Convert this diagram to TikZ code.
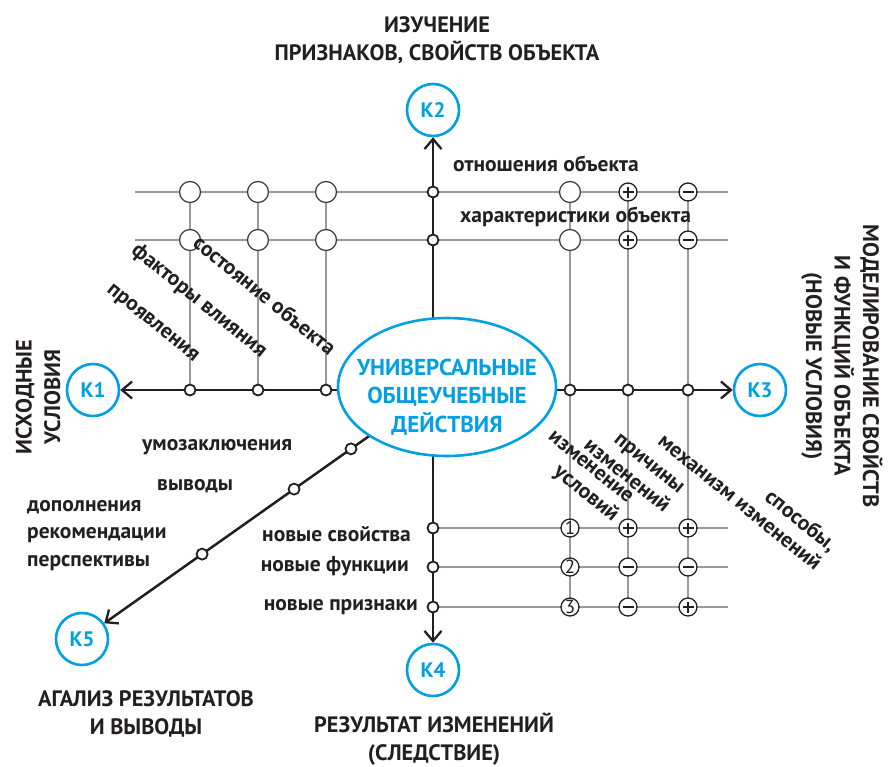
\documentclass[tikz,border=0pt]{standalone}
\usepackage{fontspec}
\setmainfont{PT Sans}
\usetikzlibrary{arrows.meta,calc,shapes.geometric}
\definecolor{kblue}{HTML}{00A0E3}
\definecolor{ink}{HTML}{231F20}
\definecolor{gridc}{HTML}{9A9A9A}
\begin{document}
\begin{tikzpicture}[x=1pt,y=-1pt,
  kcirc/.style={circle,draw=kblue,line width=2.6pt,minimum size=52pt,inner sep=0pt,text=kblue,font=\fontsize{21}{21}\selectfont\bfseries},
  head/.style={text=ink,font=\fontsize{22.3}{28.5}\selectfont\bfseries,align=center,inner sep=0pt},
  lab/.style={text=ink,font=\fontsize{21.5}{24}\selectfont\bfseries,inner sep=0pt},
  gline/.style={draw=gridc,line width=2.4pt},
  bline/.style={draw=ink,line width=2.5pt},
  arr/.style={-{Straight Barb[length=10pt,width=17pt,line width=2.3pt]}},
  junc/.style={circle,draw=ink,fill=white,line width=1.8pt,minimum size=11pt,inner sep=0pt},
  onode/.style={circle,draw=ink!85,fill=white,line width=1.3pt,minimum size=21pt,inner sep=0pt},
  snode/.style={circle,draw=ink,fill=white,line width=1.3pt,minimum size=18pt,inner sep=0pt,font=\fontsize{19}{19}\selectfont,text=ink},
  pl/.style={snode,path picture={\draw[ink,line width=1.4pt]
     ([xshift=-5.5pt]path picture bounding box.center) -- ([xshift=5.5pt]path picture bounding box.center)
     ([yshift=-5.5pt]path picture bounding box.center) -- ([yshift=5.5pt]path picture bounding box.center);}},
  mi/.style={snode,path picture={\draw[ink,line width=1.7pt]
     ([xshift=-5.5pt]path picture bounding box.center) -- ([xshift=5.5pt]path picture bounding box.center);}},
]
\useasboundingbox (0,0) rectangle (888,766);

% grid end coordinates
\coordinate (rl1) at (135,192); \coordinate (rr1) at (728,192);
\coordinate (rl2) at (135,240); \coordinate (rr2) at (728,240);
\coordinate (bl1) at (433,528); \coordinate (br1) at (728,528);
\coordinate (bl2) at (433,567); \coordinate (br2) at (728,567);
\coordinate (bl3) at (433,607); \coordinate (br3) at (728,607);

% K nodes
\node[kcirc] (K1) at (93,390) {К1};
\node[kcirc] (K2) at (433,110) {К2};
\node[kcirc] (K3) at (760,390) {К3};
\node[kcirc] (K4) at (433,670) {К4};
\node[kcirc] (K5) at (82,639) {К5};

% gray lines
\draw[gline] (rl1) -- (rr1);
\draw[gline] (rl2) -- (rr2);
\foreach \x/\n in {190/a,258/b,326/c}{
  \coordinate (lt\n) at (\x,192); \coordinate (lb\n) at (\x,390);
  \draw[gline] (lt\n) -- (lb\n);
}
\foreach \x/\n in {570/a,628/b,688/c}{
  \coordinate (rt\n) at (\x,192); \coordinate (rb\n) at (\x,607);
  \draw[gline] (rt\n) -- (rb\n);
}
\draw[gline] (bl1) -- (br1);
\draw[gline] (bl2) -- (br2);
\draw[gline] (bl3) -- (br3);

% black lines
\coordinate (v1) at (433,192);
\draw[bline,arr] (v1) -- (K2);
\draw[bline] (v1) -- (bl3);
\draw[bline,arr] (bl3) -- (K4);
\draw[bline,arr] (lba) -- (K1);
\coordinate (hr) at (688,390);
\draw[bline] (lba) -- (hr);
\draw[bline,arr] (hr) -- (K3);
\coordinate (dstart) at (447,381);
\draw[bline,arr] (dstart) -- (K5);

% ellipse
\node[ellipse,draw=kblue,line width=2.6pt,fill=white,minimum width=218pt,minimum height=138pt,inner sep=0pt] (E) at (447,387) {};
\node[text=kblue,align=center,font=\fontsize{23}{28.5}\selectfont\bfseries,inner sep=0pt] (Et) at (447,397)
  {УНИВЕРСАЛЬНЫЕ\\ОБЩЕУЧЕБНЫЕ\\ДЕЙСТВИЯ};

% junctions
\foreach \y in {192,240,528,567,607} \node[junc] at (433,\y) {};
\foreach \x in {190,258,326,570,628,688} \node[junc] at (\x,390) {};
\foreach \t in {0.263,0.419,0.671} \node[junc] at ($(dstart)!\t!(K5.center)$) {};

% open circles top rows
\foreach \x in {190,258,326,570}{
  \node[onode] at (\x,192) {};
  \node[onode] at (\x,240) {};
}
\node[pl] at (628,192) {}; \node[mi] at (688,192) {};
\node[pl] at (628,240) {}; \node[mi] at (688,240) {};
% bottom rows
\node[snode] at (570,528) {1}; \node[pl] at (628,528) {}; \node[pl] at (688,528) {};
\node[snode] at (570,567) {2}; \node[mi] at (628,567) {}; \node[mi] at (688,567) {};
\node[snode] at (570,607) {3}; \node[mi] at (628,607) {}; \node[pl] at (688,607) {};

% labels
\node[lab,anchor=west] (lo) at (453,164) {отношения объекта};
\node[lab,anchor=west] (lx) at (460,217) {характеристики объекта};
\node[lab,rotate=-39] (lp) at (152,324) {проявления};
\node[lab,rotate=-39] (lf) at (199,301) {факторы влияния};
\node[lab,rotate=-39] (ls) at (265,295) {состояние объекта};
\node[lab,rotate=-39,align=right] (ru) at (582,478) {изменение\\условий};
\node[lab,rotate=-39,align=right] (rp) at (634,467) {причины\\изменений};
\node[lab,rotate=-39,align=right] (rm) at (748,492) {способы,\\механизм изменений};
\node[lab,anchor=west] (lu) at (142,447) {умозаключения};
\node[lab,anchor=west] (lv) at (157,486) {выводы};
\node[lab,anchor=west] (ld) at (27,507) {дополнения};
\node[lab,anchor=west] (lr) at (27,535) {рекомендации};
\node[lab,anchor=west] (lpp) at (27,563) {перспективы};
\node[lab,anchor=east] (ns) at (411,534) {новые свойства};
\node[lab,anchor=east] (nf) at (409,566) {новые функции};
\node[lab,anchor=east] (np) at (418,607) {новые признаки};

% headings
\node[head] (h2) at (437,40) {ИЗУЧЕНИЕ\\ПРИЗНАКОВ, СВОЙСТВ ОБЪЕКТА};
\node[head] (h4) at (434,739) {РЕЗУЛЬТАТ ИЗМЕНЕНИЙ\\(СЛЕДСТВИЕ)};
\node[head] (h5) at (146,714) {АГАЛИЗ РЕЗУЛЬТАТОВ\\И ВЫВОДЫ};
\node[head,rotate=90] (h1) at (38,397) {ИСХОДНЫЕ\\УСЛОВИЯ};
\node[head,rotate=-90] (h3) at (842,366) {МОДЕЛИРОВАНИЕ СВОЙСТВ\\И ФУНКЦИЙ ОБЪЕКТА\\(НОВЫЕ УСЛОВИЯ)};
\end{tikzpicture}
\end{document}
